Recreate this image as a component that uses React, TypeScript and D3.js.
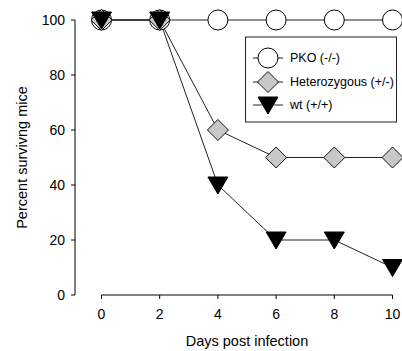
import React from "react";
import * as d3 from "d3";

const days = [0, 2, 4, 6, 8, 10];
const pko = [100, 100, 100, 100, 100, 100];
const hetero = [100, 100, 60, 50, 50, 50];
const wt = [100, 100, 40, 20, 20, 10];
const xTicks = [0, 2, 4, 6, 8, 10];
const yTicks = [0, 20, 40, 60, 80, 100];
const legendLabels = ["PKO (-/-)", "Heterozygous (+/-)", "wt (+/+)"];

const W = 402, H = 351;
const font = "Liberation Sans, Arial, sans-serif";

function Marker({ kind, x, y }: { kind: string; x: number; y: number }) {
  if (kind === "circle") return <circle cx={x} cy={y} r={10} fill="#fff" stroke="#000" strokeWidth={1} />;
  if (kind === "diamond") {
    const s = 10.5;
    return <path d={`M${x},${y - s}L${x + s},${y}L${x},${y + s}L${x - s},${y}Z`} fill="#c8c8c8" stroke="#111" strokeWidth={1} />;
  }
  return <path d={`M${x - 10},${y - 8}L${x + 10},${y - 8}L${x},${y + 9}Z`} fill="#000" stroke="#000" strokeWidth={1} />;
}

export default function App() {
  const x = d3.scaleLinear().domain([0, 10]).range([101.5, 392.5]);
  const y = d3.scaleLinear().domain([0, 100]).range([295, 20]);
  const line = d3.line<number>().x((_, i) => x(days[i])).y((d) => y(d));
  const series = [
    { vals: pko, kind: "circle" },
    { vals: hetero, kind: "diamond" },
    { vals: wt, kind: "triangle" },
  ];
  return (
    <svg width={W} height={H} style={{ position: "absolute", left: 0, top: 0, background: "#fff" }} fontFamily={font}>
      {/* y axis */}
      <line x1={75} x2={75} y1={y(100)} y2={y(0)} stroke="#000" strokeWidth={1} />
      {yTicks.map((t) => (
        <g key={t}>
          <line x1={71} x2={75} y1={y(t)} y2={y(t)} stroke="#000" />
          <text x={65} y={y(t)} dy="0.35em" textAnchor="end" fontSize={14}>{t}</text>
        </g>
      ))}
      {/* x axis */}
      <line x1={x(0)} x2={x(10)} y1={295} y2={295} stroke="#000" strokeWidth={1} />
      {xTicks.map((t) => (
        <g key={t}>
          <line x1={x(t)} x2={x(t)} y1={295} y2={299} stroke="#000" />
          <text x={x(t)} y={318.5} textAnchor="middle" fontSize={14}>{t}</text>
        </g>
      ))}
      <text x={x(5)} y={345.5} textAnchor="middle" fontSize={14.5}>Days post infection</text>
      <text transform={`translate(26.5,${y(50)}) rotate(-90)`} textAnchor="middle" fontSize={14.5}>Percent survivng mice</text>
      {/* lines */}
      {series.map((s, i) => (
        <path key={i} d={line(s.vals) || ""} fill="none" stroke="#222" strokeWidth={1} />
      ))}
      {series.map((s, i) => (
        <g key={i}>
          {s.vals.map((v, j) => (
            <Marker key={j} kind={s.kind} x={x(days[j])} y={y(v)} />
          ))}
        </g>
      ))}
      {/* legend */}
      <rect x={245.5} y={37} width={151} height={85} fill="#fff" stroke="#222" strokeWidth={1} />
      {legendLabels.map((l, i) => {
        const ly = [58, 82, 105][i];
        return (
          <g key={l}>
            <line x1={253} x2={283} y1={ly} y2={ly} stroke="#222" />
            <Marker kind={series[i].kind} x={268} y={ly} />
            <text x={290} y={ly} dy="0.35em" fontSize={12.5}>{l}</text>
          </g>
        );
      })}
    </svg>
  );
}
